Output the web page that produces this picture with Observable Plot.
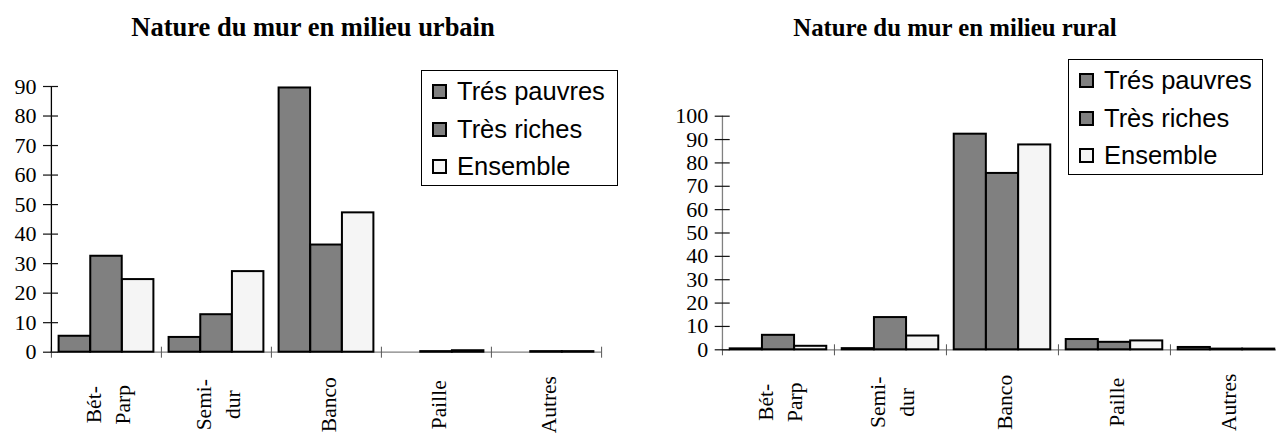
<!DOCTYPE html>
<html><head><meta charset="utf-8">
<script src="https://cdn.jsdelivr.net/npm/d3@7"></script>
<script src="https://cdn.jsdelivr.net/npm/@observablehq/plot@0.6"></script>
<style>
html,body{margin:0;padding:0;background:#fff;overflow:hidden}
body{position:relative;width:1276px;height:434px}
.title{position:absolute;font-weight:bold;font-family:"Liberation Serif","Times New Roman",serif;line-height:26px;white-space:nowrap;transform:translateX(-50%);color:#000}
.legend{position:absolute;border:1px solid #000;background:#fff;box-sizing:border-box;padding:2px 0 0 10px;font:25.5px "Liberation Sans",Arial,sans-serif;color:#000}
.legend .row{display:flex;align-items:center;height:37.5px;white-space:nowrap}
.legend .sw{width:11px;height:11px;border:2px solid #000;margin-right:10px;flex:none}
.chart{position:absolute;top:0}
</style>
</head><body>
<div id="root"></div>
<script>
// ---- data ----
const categories = ["Bét-\nParp", "Semi-\ndur", "Banco", "Paille", "Autres"];
const series = ["Trés pauvres", "Très riches", "Ensemble"];
const seriesFill = ["#808080", "#808080", "#f5f5f5"];

const urbainTitle = "Nature du mur en milieu urbain";
const urbainPauvres = [5.4, 5.0, 89.5, 0, 0];
const urbainRiches = [32.5, 12.7, 36.3, 0.2, 0.2];
const urbainEnsemble = [24.6, 27.3, 47.2, 0.5, 0.2];
const urbainTicks = [0, 10, 20, 30, 40, 50, 60, 70, 80, 90];

const ruralTitle = "Nature du mur en milieu rural";
const ruralPauvres = [0.4, 0.5, 92.3, 4.4, 1.0];
const ruralRiches = [6.2, 13.8, 75.5, 3.2, 0.3];
const ruralEnsemble = [1.5, 5.9, 87.7, 3.8, 0.3];
const ruralTicks = [0, 10, 20, 30, 40, 50, 60, 70, 80, 90, 100];

function chart({vals, ticks, width, ml, mr, mt, mb, yAxisColor}) {
  const yMax = ticks[ticks.length - 1];
  const plotW = width - ml - mr;
  const band = plotW / categories.length;
  const pad = band * 0.069;
  const bw = (band - 2 * pad) / series.length;
  const rows = categories.map((c, i) => ({cat: c, v: vals.map(a => a[i])}));
  const marks = [
    Plot.ruleY([0], {stroke: "#808080", strokeWidth: 1.2}),
    Plot.ruleX(categories, {x: d => d, dx: -band / 2, y1: 0, y2: 0, insetTop: -5, insetBottom: -6, stroke: "#555"}),
    Plot.ruleX([categories[categories.length - 1]], {x: d => d, dx: band / 2, y1: 0, y2: 0, insetTop: -5, insetBottom: -6, stroke: "#555"}),
    Plot.ruleX([yMax], {x: () => categories[0], dx: -band / 2, y1: 0, y2: d => d, stroke: yAxisColor, strokeWidth: 1.3}),
    Plot.ruleY(ticks, {y: d => d, insetLeft: -7, insetRight: plotW - 8, stroke: "#111", strokeWidth: 1.2}),
    Plot.text(ticks, {y: d => d, frameAnchor: "left", dx: -14, textAnchor: "end", fontSize: 22, fill: "#000"}),
    Plot.text(categories, {x: d => d, frameAnchor: "bottom", dy: 52.5, rotate: -90, textAnchor: "middle", lineAnchor: "middle", lineHeight: 1.36, fontSize: 21.5, fill: "#000"})
  ];
  series.forEach((s, j) => {
    marks.push(Plot.barY(rows.filter(r => r.v[j] > 0), {
      x: "cat", y: r => r.v[j], fill: seriesFill[j], stroke: "#000", strokeWidth: 2,
      insetLeft: pad + j * bw, insetRight: band - pad - (j + 1) * bw
    }));
  });
  return Plot.plot({
    width, height: 434,
    marginLeft: ml, marginRight: mr, marginTop: mt, marginBottom: mb,
    x: {domain: categories, padding: 0, axis: null},
    y: {domain: [0, yMax], axis: null},
    style: {fontFamily: "'Liberation Serif','Times New Roman',serif", fontSize: "21px", color: "#000", background: "transparent", overflow: "visible"},
    marks
  });
}

function legend(left, top, width) {
  const d = document.createElement("div");
  d.className = "legend";
  Object.assign(d.style, {left: left + "px", top: top + "px", width: width + "px", height: "116px"});
  series.forEach((s, j) => {
    const r = document.createElement("div");
    r.className = "row";
    const sw = document.createElement("span");
    sw.className = "sw";
    sw.style.background = seriesFill[j];
    r.appendChild(sw);
    r.appendChild(document.createTextNode(s));
    d.appendChild(r);
  });
  return d;
}

function title(text, cx, top, size) {
  const t = document.createElement("div");
  t.className = "title";
  t.textContent = text;
  Object.assign(t.style, {left: cx + "px", top: top + "px", fontSize: size + "px"});
  return t;
}

const root = document.getElementById("root");

const c1 = chart({vals: [urbainPauvres, urbainRiches, urbainEnsemble], ticks: urbainTicks,
  width: 638, ml: 50, mr: 37, mt: 86, mb: 82.3, yAxisColor: "#000"});
c1.classList.add("chart"); c1.style.left = "0px";
root.appendChild(c1);

const c2 = chart({vals: [ruralPauvres, ruralRiches, ruralEnsemble], ticks: ruralTicks,
  width: 660, ml: 83.7, mr: 15.8, mt: 115.7, mb: 84.7, yAxisColor: "#808080"});
c2.classList.add("chart"); c2.style.left = "638px";
root.appendChild(c2);

root.appendChild(title(urbainTitle, 313, 14, 26.5));
root.appendChild(title(ruralTitle, 955, 15, 24.8));
root.appendChild(legend(421, 70, 197));
root.appendChild(legend(1068, 59, 195));
</script>
</body></html>
